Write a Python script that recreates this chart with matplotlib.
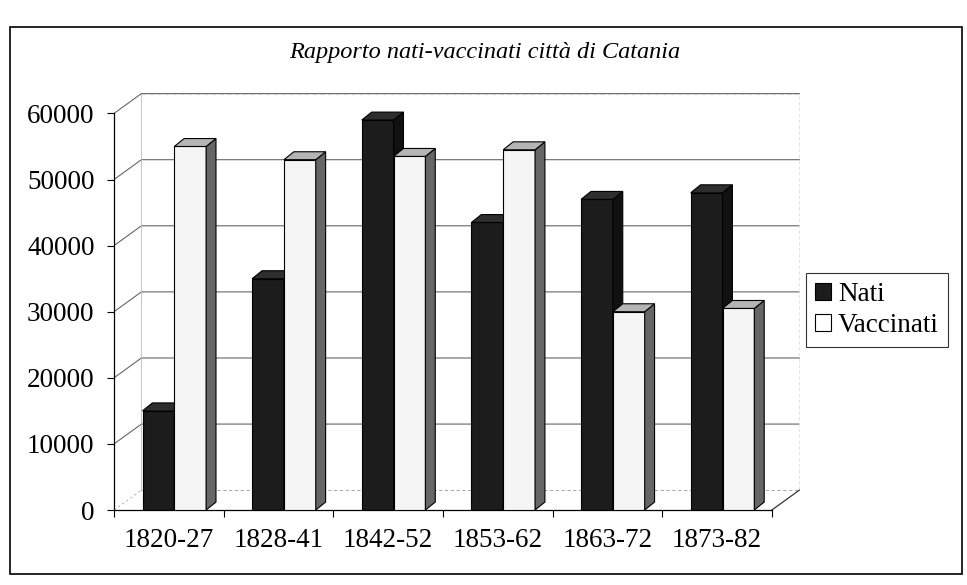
import matplotlib
matplotlib.use('Agg')
from matplotlib import pyplot as plt
from matplotlib.patches import Polygon, Rectangle, Patch

# data
periods = ['1820-27', '1828-41', '1842-52', '1853-62', '1863-72', '1873-82']
nati = [15000, 35000, 59000, 43500, 47000, 48000]
vaccinati = [55000, 53000, 53500, 54500, 30000, 30500]
y_ticks = [0, 10000, 20000, 30000, 40000, 50000, 60000]

plt.rcParams['font.family'] = ['Liberation Serif', 'DejaVu Serif']

fig = plt.figure(figsize=(9.67, 5.85), dpi=100)
ax = fig.add_axes([0.1179, 0.1282, 0.72, 0.757])
ax.set_xlim(-0.5, 5.85)
ax.set_ylim(0, 67000)

# fake 3d: back wall offset and bar depth
wall_dx, wall_dy = 0.25, 3000
bar_dx, bar_dy = 0.09, 1200
bar_w = 0.29
n = len(periods)
x_left = -0.5
x_right = n - 0.5

# back wall grid
for t in y_ticks[1:]:
    ax.plot([x_left, x_left + wall_dx, x_right + wall_dx], [t, t + wall_dy, t + wall_dy],
            color='#666666', lw=0.8, zorder=1)
top = y_ticks[-1] + wall_dy
ax.plot([x_left + wall_dx, x_right + wall_dx], [top, top], color='#cccccc', lw=0.8, ls=(0, (4, 3)), zorder=1)
ax.plot([x_left + wall_dx, x_left + wall_dx], [wall_dy, top], color='#bbbbbb', lw=0.6, zorder=1)
ax.plot([x_right + wall_dx, x_right + wall_dx], [wall_dy, top], color='#dddddd', lw=0.6, ls=(0, (4, 3)), zorder=1)
ax.plot([x_left + wall_dx, x_right + wall_dx], [wall_dy, wall_dy], color='#999999', lw=0.6, ls=(0, (4, 3)), zorder=1)
# floor
ax.plot([x_left, x_left + wall_dx], [0, wall_dy], color='#aaaaaa', lw=0.6, ls=(0, (3, 3)), zorder=1)
ax.plot([x_right, x_right + wall_dx], [0, wall_dy], color='#333333', lw=0.9, zorder=1)


def bar3d(x0, values, front, top_c, side_c, z):
    bars = ax.bar(x0, values, width=bar_w, align='edge', color=front,
                  edgecolor='black', linewidth=0.8, zorder=z)
    for b in bars:
        x = b.get_x()
        h = b.get_height()
        side = Polygon([(x + bar_w, 0), (x + bar_w + bar_dx, bar_dy),
                        (x + bar_w + bar_dx, h + bar_dy), (x + bar_w, h)],
                       closed=True, facecolor=side_c, edgecolor='black', lw=0.8, zorder=z)
        cap = Polygon([(x, h), (x + bar_dx, h + bar_dy),
                       (x + bar_w + bar_dx, h + bar_dy), (x + bar_w, h)],
                      closed=True, facecolor=top_c, edgecolor='black', lw=0.8, zorder=z)
        ax.add_patch(side)
        ax.add_patch(cap)


xs = list(range(n))
bar3d([i - 0.24 for i in xs], nati, '#1c1c1c', '#2e2e2e', '#111111', 2)
bar3d([i + 0.05 for i in xs], vaccinati, '#f5f5f5', '#b5b5b5', '#666666', 3)

# axes styling
for s in ('top', 'right'):
    ax.spines[s].set_visible(False)
ax.spines['left'].set_bounds(0, 60000)
ax.spines['bottom'].set_bounds(x_left, x_right)
ax.spines['left'].set_linewidth(0.9)
ax.spines['bottom'].set_linewidth(0.9)
ax.spines['left'].set_position(('data', x_left))

ax.set_yticks(y_ticks)
ax.set_yticklabels([str(t) for t in y_ticks], fontsize=19.5)
ax.tick_params(axis='y', direction='out', length=5, width=0.8, pad=9)

ax.set_xticks([i - 0.5 for i in range(n + 1)])
ax.set_xticklabels([])
ax.set_xticks(xs, minor=True)
ax.set_xticklabels(periods, minor=True, fontsize=19.5)
ax.tick_params(axis='x', which='major', direction='out', length=5, width=0.8)
ax.tick_params(axis='x', which='minor', length=0, pad=13)

# title, legend, outer frame
fig.text(0.5016, 0.911, 'Rapporto nati-vaccinati città di Catania', ha='center', va='center',
         fontsize=17.5, style='italic')

handles = [Patch(facecolor='#1c1c1c', edgecolor='black', lw=0.8, label='Nati'),
           Patch(facecolor='white', edgecolor='black', lw=0.8, label='Vaccinati')]
leg = fig.legend(handles=handles, loc='center left', bbox_to_anchor=(0.833, 0.47),
                 fontsize=19.5, frameon=True, fancybox=False, handlelength=0.6,
                 handleheight=0.6, handletextpad=0.25, borderpad=0.35, labelspacing=0.2,
                 borderaxespad=0)
leg.get_frame().set_edgecolor('black')
leg.get_frame().set_linewidth(0.8)

fig.patches.append(Rectangle((0.0103, 0.019), 0.9845, 0.935, transform=fig.transFigure,
                             fill=False, edgecolor='black', lw=1.2))

plt.savefig('out.png', dpi=100)
